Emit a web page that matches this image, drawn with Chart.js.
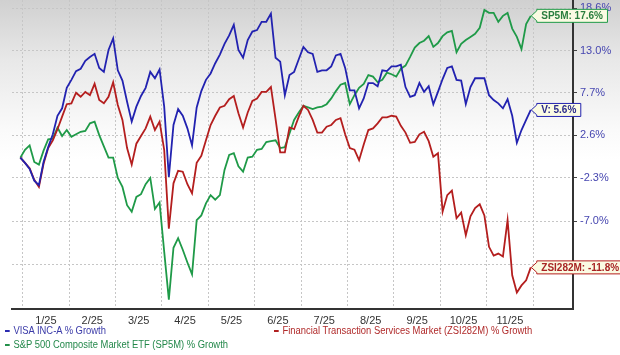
<!DOCTYPE html>
<html>
<head>
<meta charset="utf-8">
<script src="https://cdn.jsdelivr.net/npm/chart.js@4.4.0/dist/chart.umd.min.js"></script>
<style>
  html, body { margin: 0; padding: 0; }
  body {
    width: 620px; height: 355px; overflow: hidden; position: relative;
    background: linear-gradient(to bottom, #d0d0d0 0px, #e8e8e8 60px, #fafafa 130px, #ffffff 160px);
    font-family: "Liberation Sans", Arial, sans-serif;
  }
  #wrap { position: absolute; left: 0; top: 0; width: 620px; height: 355px; }
  .legend { position: absolute; font-size: 10px; line-height: 12px; white-space: nowrap;
    transform: scaleX(0.94); transform-origin: left center; }
  .legend i { display: inline-block; width: 5px; height: 2px; margin-right: 4px; vertical-align: middle; }
</style>
</head>
<body>
<div id="wrap"><canvas id="growthChart" width="620" height="355"></canvas></div>

<div class="legend" style="left:5px; top:325px; color:#3a3aa8;"><i style="background:#2b2bb0"></i>VISA INC-A % Growth</div>
<div class="legend" style="left:274px; top:325px; color:#b02a2a;"><i style="background:#b02020"></i>Financial Transaction Services Market (ZSI282M) % Growth</div>
<div class="legend" style="left:5px; top:339px; color:#23884a;"><i style="background:#23904a"></i>S&amp;P 500 Composite Market ETF (SP5M) % Growth</div>

<script>
// months shown under the x axis (label sits in the middle of each month)
const monthLabels = ['1/25', '2/25', '3/25', '4/25', '5/25', '6/25', '7/25', '8/25', '9/25', '10/25', '11/25'];

// right axis ticks (% growth); the lowest one is hidden behind the ZSI282M tag
const yTickValues = [-11.5, -7.0, -2.3, 2.6, 7.7, 13.0, 18.6];
const yTickLabels = ['', '-7.0%', '-2.3%', '2.6%', '7.7%', '13.0%', '18.6%'];

// samples every tenth of a month, from just before 1/25 to end of 11/25
const firstSample = -0.05;
const sampleStep = 0.1;

// % growth
const visaGrowth = [
  0.0, -0.6, -1.3, -2.6, -3.1, -0.5, 1.2, 2.7, 4.9, 5.8,
  8.3, 9.3, 10.4, 10.7, 11.7, 12.2, 12.6, 10.8, 10.3, 13.1,
  14.6, 10.5, 9.2, 6.6, 4.2, 6.0, 7.3, 8.3, 10.3, 9.5,
  10.6, 6.0, -2.2, 3.8, 5.7, 4.9, 3.4, 1.4, 5.9, 7.9,
  9.3, 10.1, 11.4, 12.5, 13.9, 15.0, 16.4, 13.1, 12.1, 14.4,
  15.5, 15.7, 16.8, 16.8, 17.9, 12.1, 11.6, 7.4, 9.9, 10.3,
  11.9, 13.5, 12.8, 12.6, 10.3, 10.5, 10.5, 11.0, 12.4, 12.6,
  10.8, 8.0, 8.0, 5.8, 7.0, 8.9, 8.9, 8.5, 10.5, 10.4,
  11.0, 11.0, 11.2, 8.4, 7.2, 7.4, 8.9, 7.8, 8.5, 6.3,
  7.8, 9.4, 10.8, 11.0, 9.3, 9.2, 6.3, 8.4, 9.5, 9.5,
  9.5, 7.4, 6.8, 6.4, 5.8, 6.9, 4.9, 1.7, 3.2, 4.4,
  5.6
];

const zsiGrowth = [
  0.0, -0.6, -1.2, -2.5, -3.3, -0.7, 1.1, 2.0, 3.3, 4.8,
  6.3, 6.4, 7.7, 7.2, 7.8, 7.4, 8.8, 6.8, 6.4, 7.2,
  9.0, 6.2, 4.4, 1.1, -0.8, 1.6, 2.5, 3.4, 4.8, 3.2,
  4.2, 0.9, -7.8, -2.9, -1.5, -1.6, -3.0, -4.0, -0.6, 0.2,
  2.0, 3.8, 4.9, 5.9, 6.1, 6.9, 7.3, 5.2, 3.5, 5.3,
  6.7, 7.0, 7.8, 7.8, 8.4, 4.5, 0.6, 0.6, 3.5, 3.3,
  4.8, 6.1, 5.6, 4.4, 2.9, 2.9, 3.6, 3.8, 4.4, 4.6,
  2.7, 1.1, 0.9, -0.3, 1.5, 3.2, 3.4, 4.0, 4.7, 4.7,
  4.9, 4.8, 3.7, 2.9, 1.7, 1.8, 2.7, 3.0, 1.9, 0.1,
  0.5, -6.0, -4.2, -3.7, -6.7, -6.1, -8.5, -6.5, -5.6, -5.2,
  -6.4, -9.7, -10.6, -10.4, -10.7, -6.9, -12.6, -14.3, -13.6, -13.1,
  -11.8
];

const sp5mGrowth = [
  0.0, 0.9, 1.4, -0.5, -0.8, 0.8, 2.1, 2.2, 3.5, 2.5,
  3.2, 2.4, 2.7, 3.0, 3.1, 4.0, 4.2, 2.6, 1.3, 0.0,
  0.0, -2.3, -3.3, -5.3, -6.0, -4.4, -4.1, -3.0, -2.3, -5.7,
  -5.0, -10.2, -15.0, -9.8, -8.8, -10.0, -11.3, -12.5, -6.9, -6.4,
  -5.1, -4.2, -4.7, -4.2, -1.4, 0.3, 0.5, -1.0, -1.6, 0.0,
  0.1, 0.9, 1.0, 1.8, 1.9, 2.0, 1.1, 1.2, 2.8, 4.4,
  5.3, 6.1, 5.9, 5.7, 5.9, 6.0, 6.3, 7.0, 7.9, 8.7,
  8.9, 6.3, 7.4, 8.3, 8.8, 9.9, 9.7, 9.0, 9.3, 10.2,
  10.0, 9.7, 10.7, 11.1, 12.2, 13.4, 14.0, 14.3, 14.9, 13.5,
  14.0, 14.9, 15.4, 15.6, 12.8, 13.9, 14.4, 14.8, 15.2, 16.0,
  18.4, 18.0, 18.0, 16.8, 17.6, 18.0, 15.9, 14.8, 13.2, 16.5,
  17.6
];

const seriesNames = ['VISA INC-A % Growth', 'Financial Transaction Services Market (ZSI282M) % Growth', 'S&P 500 Composite Market ETF (SP5M) % Growth'];
const seriesTags = ['V', 'ZSI282M', 'SP5M'];
const seriesColors = ['#2222b0', '#b41e1e', '#1f9a48'];
const tagTextColors = ['#2a2a8c', '#a82424', '#2a7e3e'];
const allSeries = [visaGrowth, zsiGrowth, sp5mGrowth];

// growth is plotted as an index (100 = start) on a log axis
function toPoints(values) {
  return values.map((v, i) => ({ x: firstSample + i * sampleStep, y: 100 + v }));
}

const xTicks = [];
monthLabels.forEach((m, k) => { xTicks.push({ value: k }); xTicks.push({ value: k + 0.5 }); });
xTicks.push({ value: monthLabels.length });

// end-of-line value tags
const calloutPlugin = {
  id: 'callouts',
  afterDraw(chart) {
    const ctx = chart.ctx;
    ctx.save();
    ctx.font = 'bold 10px "Liberation Sans", Arial, sans-serif';
    ctx.textBaseline = 'middle';
    allSeries.forEach((vals, i) => {
      const meta = chart.getDatasetMeta(i);
      const last = meta.data[meta.data.length - 1];
      const text = seriesTags[i] + ': ' + vals[vals.length - 1].toFixed(1) + '%';
      const w = ctx.measureText(text).width + 9;
      const tip = last.x + 0.5, left = last.x + 6, y = last.y, h = 6.5;
      ctx.beginPath();
      ctx.moveTo(tip, y);
      ctx.lineTo(left, y - 5);
      ctx.lineTo(left, y - h);
      ctx.lineTo(left + w, y - h);
      ctx.lineTo(left + w, y + h);
      ctx.lineTo(left, y + h);
      ctx.lineTo(left, y + 5);
      ctx.closePath();
      ctx.fillStyle = '#fbfbe3';
      ctx.fill();
      ctx.lineWidth = 1;
      ctx.strokeStyle = seriesColors[i];
      ctx.stroke();
      ctx.fillStyle = tagTextColors[i];
      ctx.fillText(text, left + 4.5, y + 0.5);
    });
    ctx.restore();
  }
};

const ctx = document.getElementById('growthChart').getContext('2d');
const growthChart = new Chart(ctx, {
  type: 'line',
  data: {
    datasets: allSeries.map((vals, i) => ({
      label: seriesNames[i],
      data: toPoints(vals),
      borderColor: seriesColors[i],
      borderWidth: 1.8,
      pointRadius: 0,
      tension: 0,
      fill: false
    }))
  },
  options: {
    responsive: false,
    animation: false,
    layout: { padding: { left: 12, top: 0, right: 0, bottom: 0 } },
    plugins: { legend: { display: false }, tooltip: { enabled: false } },
    scales: {
      x: {
        type: 'linear',
        min: -0.23,
        max: 11.86,
        afterBuildTicks: scale => { scale.ticks = xTicks.map(t => ({ value: t.value })); },
        afterFit: scale => { scale.height = 46; scale.paddingLeft = 0; scale.paddingRight = 0; },
        ticks: {
          autoSkip: false,
          maxRotation: 0,
          padding: 5,
          color: '#333',
          font: { size: 11 },
          callback: (v) => Number.isInteger(v) ? '' : monthLabels[Math.floor(v)]
        },
        grid: {
          drawTicks: false,
          color: c => (c.tick && Number.isInteger(c.tick.value)) ? '#c6c6c6' : 'rgba(0,0,0,0)'
        },
        border: { display: true, color: '#333', width: 2, dash: [2, 2] }
      },
      y: {
        type: 'logarithmic',
        position: 'right',
        min: 84.1,
        max: 119.75,
        afterBuildTicks: scale => { scale.ticks = yTickValues.map(v => ({ value: 100 + v })); },
        afterFit: scale => { scale.width = 47; scale.paddingTop = 0; scale.paddingBottom = 0; },
        ticks: {
          autoSkip: false,
          padding: 3,
          color: '#4646b0',
          font: { size: 11 },
          callback: (v, idx) => yTickLabels[idx]
        },
        grid: {
          color: '#c6c6c6',
          tickColor: '#444',
          tickLength: 4,
          drawTicks: true
        },
        border: { display: true, color: '#333', width: 2, dash: [2, 2] }
      }
    }
  },
  plugins: [calloutPlugin]
});
</script>
</body>
</html>
